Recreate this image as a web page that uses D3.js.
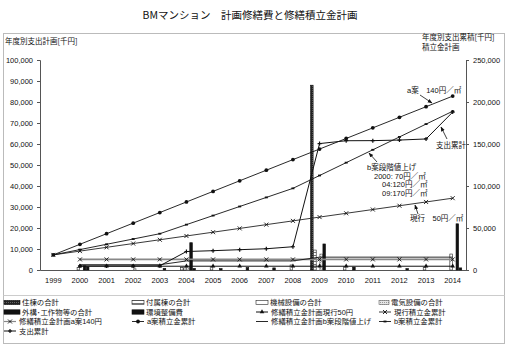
<!DOCTYPE html>
<html>
<head>
<meta charset="utf-8">
<script src="https://cdn.jsdelivr.net/npm/d3@7/dist/d3.min.js"></script>
<style>
  html, body { margin: 0; padding: 0; background: #fff; }
  svg { display: block; font-family: "Noto Sans CJK JP", "Noto Sans", sans-serif; }
  .tick text { font-family: "Liberation Sans", Arial, sans-serif; }
  .small { font-family: "Liberation Sans", "Noto Sans CJK JP", sans-serif; }
</style>
</head>
<body>
<svg id="chart" width="508" height="348"></svg>
<script>
// 年度
const years = ["1999","2000","2001","2002","2003","2004","2005","2006","2007","2008","2009","2010","2011","2012","2013","2014"];

// 年度別支出計画 [千円]（左軸・棒）
const jutou     = [0, 0, 0, 0, 0, 0, 0, 0, 0, 0, 88000, 0, 0, 0, 0, 0];
const fuzokutou = [0, 0, 0, 0, 0, 1200, 0, 0, 0, 0, 9500, 0, 0, 0, 0, 0];
const kikai     = [0, 1200, 0, 0, 0, 1000, 1500, 0, 0, 2400, 0, 1500, 0, 0, 1300, 7600];
const denki     = [0, 0, 0, 600, 0, 1500, 0, 0, 0, 0, 7600, 0, 0, 0, 0, 0];
const gaikou    = [0, 2000, 0, 0, 800, 13000, 0, 0, 0, 0, 12400, 0, 0, 0, 0, 22000];
const kankyou   = [0, 1500, 0, 0, 0, 800, 700, 1200, 1000, 0, 0, 1400, 0, 700, 0, 1000];

// 修繕積立金計画（年額）と累計 [千円]（右軸・線）
const genkouAnnual = [null, 4500, 4500, 4500, 4500, 4500, 4500, 4500, 4500, 4500, 4500, 4500, 4500, 4500, 4500, 4500];
const genkouCum    = [18000, 22500, 27000, 31500, 36000, 40500, 45000, 49500, 54000, 58500, 63000, 67500, 72000, 76500, 81000, 85500];
const aAnnual      = [null, 12600, 12600, 12600, 12600, 12600, 12600, 12600, 12600, 12600, 12600, 12600, 12600, 12600, 12600, 12600];
const aCum         = [18000, 30600, 43200, 55800, 68400, 81000, 93600, 106200, 118800, 131400, 144000, 156600, 169200, 181800, 194400, 207000];
const bAnnual      = [null, 6300, 6300, 6300, 6300, 10800, 10800, 10800, 10800, 10800, 15300, 15300, 15300, 15300, 15300, 15300];
const bCum         = [18000, 24300, 30600, 36900, 43200, 54000, 64800, 75600, 86400, 97200, 112500, 127800, 143100, 158400, 173700, 189000];
const spendCum     = [null, 4800, 4800, 4800, 5000, 22000, 23000, 24200, 25300, 27700, 150500, 153900, 154000, 154700, 156000, 188000];

// 軸目盛
const leftTicks  = [0, 10000, 20000, 30000, 40000, 50000, 60000, 70000, 80000, 90000, 100000];
const rightTicks = [0, 50000, 100000, 150000, 200000, 250000];

const svg = d3.select("#chart");
const W = 508, H = 348;
const plot = { left: 40, right: 466, top: 60, bottom: 270 };

svg.append("rect").attr("width", W).attr("height", H).attr("fill", "#fff");

// パターン（棒の塗り）
const defs = svg.append("defs");
const pJ = defs.append("pattern").attr("id", "pJutou").attr("patternUnits", "userSpaceOnUse").attr("width", 2).attr("height", 2);
pJ.append("rect").attr("width", 2).attr("height", 2).attr("fill", "#222");
pJ.append("rect").attr("width", 1).attr("height", 1).attr("fill", "#666");
const pF = defs.append("pattern").attr("id", "pFuzoku").attr("patternUnits", "userSpaceOnUse").attr("width", 3).attr("height", 3);
pF.append("rect").attr("width", 3).attr("height", 3).attr("fill", "#fff");
pF.append("rect").attr("width", 3).attr("height", 1).attr("fill", "#777");
const pD = defs.append("pattern").attr("id", "pDenki").attr("patternUnits", "userSpaceOnUse").attr("width", 2).attr("height", 2);
pD.append("rect").attr("width", 2).attr("height", 2).attr("fill", "#e6e6e6");
pD.append("rect").attr("width", 1).attr("height", 1).attr("fill", "#999");

defs.append("marker").attr("id", "arrow").attr("viewBox", "0 0 10 10").attr("refX", 9).attr("refY", 5)
  .attr("markerWidth", 6).attr("markerHeight", 6).attr("orient", "auto-start-reverse")
  .append("path").attr("d", "M0,1 L10,5 L0,9 Z").attr("fill", "#111");

// 外枠
svg.append("rect").attr("x", 3.5).attr("y", 33.5).attr("width", 501).attr("height", 310)
  .attr("fill", "none").attr("stroke", "#bbb").attr("stroke-width", 1);
svg.append("line").attr("x1", 3.5).attr("x2", 504.5).attr("y1", 295.5).attr("y2", 295.5)
  .attr("stroke", "#ccc");

// タイトル
svg.append("text").attr("x", 250).attr("y", 19).attr("text-anchor", "middle")
  .attr("font-size", 10.5).attr("fill", "#111").text("BMマンション　計画修繕費と修繕積立金計画");

svg.append("text").attr("x", 5).attr("y", 44).attr("font-size", 7.5).attr("fill", "#111").text("年度別支出計画[千円]");
svg.append("text").attr("x", 422).attr("y", 39.5).attr("font-size", 7.5).attr("fill", "#111").text("年度別支出累積[千円]");
svg.append("text").attr("x", 422).attr("y", 49.5).attr("font-size", 7.5).attr("fill", "#111").text("積立金計画");

// スケール
const x = d3.scaleBand().domain(years).range([plot.left, plot.right]).padding(0);
const yL = d3.scaleLinear().domain([0, 100000]).range([plot.bottom, plot.top]);
const yR = d3.scaleLinear().domain([0, 250000]).range([plot.bottom, plot.top]);
const cx = d => x(d) + x.bandwidth() / 2;

// 軸
const fmt = d3.format(",");
const axL = svg.append("g").attr("transform", `translate(${plot.left},0)`)
  .call(d3.axisLeft(yL).tickValues(leftTicks).tickFormat(fmt).tickSize(3).tickPadding(4));
const axR = svg.append("g").attr("transform", `translate(${plot.right},0)`)
  .call(d3.axisRight(yR).tickValues(rightTicks).tickFormat(fmt).tickSize(3).tickPadding(4));
const axX = svg.append("g").attr("transform", `translate(0,${plot.bottom})`)
  .call(d3.axisBottom(x).tickSize(0).tickPadding(8));
[axL, axR, axX].forEach(g => {
  g.selectAll("path.domain").attr("stroke", "#555");
  g.selectAll(".tick line").attr("stroke", "#555");
  g.selectAll(".tick text").attr("font-size", 7.5).attr("fill", "#111");
});

// 棒グラフ（左軸）
const barSeries = [
  { name: "住棟の合計", values: jutou, fill: "url(#pJutou)", stroke: "#111" },
  { name: "付属棟の合計", values: fuzokutou, fill: "url(#pFuzoku)", stroke: "#222" },
  { name: "機械設備の合計", values: kikai, fill: "#fff", stroke: "#222" },
  { name: "電気設備の合計", values: denki, fill: "url(#pDenki)", stroke: "#666" },
  { name: "外構･工作物等の合計", values: gaikou, fill: "#111", stroke: "#111" },
  { name: "環境整備費", values: kankyou, fill: "#111", stroke: "#111" }
];
const inner = d3.scaleBand().domain(barSeries.map(s => s.name))
  .range([0, x.bandwidth()]).paddingInner(0).paddingOuter(1.3);
const barG = svg.append("g");
barSeries.forEach(s => {
  barG.selectAll(null).data(years.map((yr, i) => ({ yr, v: s.values[i] })).filter(d => d.v > 0))
    .join("rect")
    .attr("x", d => x(d.yr) + inner(s.name) + 0.25)
    .attr("width", inner.bandwidth() - 0.5)
    .attr("y", d => yL(d.v))
    .attr("height", d => yL(0) - yL(d.v))
    .attr("fill", s.fill).attr("stroke", s.stroke).attr("stroke-width", 0.6);
});

// 線グラフ（右軸）
const sym = (type, size) => d3.symbol().type(type).size(size);
const lineSeries = [
  { name: "修繕積立金計画現行50円", values: genkouAnnual, stroke: "#111", width: 1, marker: "tri" },
  { name: "現行積立金累計", values: genkouCum, stroke: "#222", width: 0.9, marker: "x" },
  { name: "修繕積立金計画a案140円", values: aAnnual, stroke: "#888", width: 1.6, marker: "x" },
  { name: "a案積立金累計", values: aCum, stroke: "#111", width: 0.9, marker: "dot" },
  { name: "修繕積立金計画b案段階値上げ", values: bAnnual, stroke: "#111", width: 0.9, marker: null },
  { name: "b案積立金累計", values: bCum, stroke: "#111", width: 0.9, marker: "dash" },
  { name: "支出累計", values: spendCum, stroke: "#111", width: 1, marker: "plus" }
];

function drawMarker(g, kind, px, py, stroke) {
  if (kind === "tri") {
    g.append("path").attr("transform", `translate(${px},${py})`).attr("d", sym(d3.symbolTriangle, 9)()).attr("fill", "#111");
  } else if (kind === "x") {
    g.append("path").attr("d", `M${px-2},${py-2}L${px+2},${py+2}M${px-2},${py+2}L${px+2},${py-2}`)
      .attr("stroke", "#111").attr("stroke-width", 0.9);
  } else if (kind === "dot") {
    g.append("circle").attr("cx", px).attr("cy", py).attr("r", 1.9).attr("fill", "#111");
  } else if (kind === "dash") {
    g.append("path").attr("d", `M${px-1.5},${py}L${px+1.5},${py}`).attr("stroke", "#111").attr("stroke-width", 1.8);
  } else if (kind === "plus") {
    g.append("path").attr("d", `M${px-2},${py}L${px+2},${py}M${px},${py-2}L${px},${py+2}`)
      .attr("stroke", "#111").attr("stroke-width", 1.2);
  }
}

const lineG = svg.append("g");
lineSeries.forEach(s => {
  const pts = years.map((yr, i) => ({ yr, v: s.values[i] })).filter(d => d.v !== null);
  const line = d3.line().x(d => cx(d.yr)).y(d => yR(d.v));
  lineG.append("path").datum(pts).attr("d", line).attr("fill", "none")
    .attr("stroke", s.stroke).attr("stroke-width", s.width);
  if (s.marker) pts.forEach(d => drawMarker(lineG, s.marker, cx(d.yr), yR(d.v), s.stroke));
});

// 注記
const note = svg.append("g").attr("class", "small").attr("font-size", 7.5).attr("fill", "#111");
function arrow(x1, y1, x2, y2) {
  note.append("line").attr("x1", x1).attr("y1", y1).attr("x2", x2).attr("y2", y2)
    .attr("stroke", "#111").attr("stroke-width", 0.8).attr("marker-end", "url(#arrow)");
}
note.append("text").attr("x", 407).attr("y", 93).text("a案　140円／㎡");
arrow(420, 95, 432, 103);
note.append("text").attr("x", 436).attr("y", 148).text("支出累計");
arrow(447, 139, 441, 127);
const bNote = note.append("text").attr("x", 367).attr("y", 170);
[
  { dx: 0, t: "b案段階値上げ" },
  { dx: 7, t: "2000:  70円／㎡" },
  { dx: 15, t: "04:120円／㎡" },
  { dx: 15, t: "09:170円／㎡" }
].forEach((ln, i) => {
  bNote.append("tspan").attr("x", 367 + ln.dx).attr("dy", i === 0 ? 0 : 8.6).text(ln.t);
});
arrow(377, 162, 369, 153);
note.append("text").attr("x", 410).attr("y", 221).text("現行　50円／㎡");
arrow(418, 214, 415, 205);

// 凡例
const legend = svg.append("g").attr("class", "small").attr("font-size", 7.4).attr("fill", "#111");
const cols = [4, 132, 256, 379];
const rows = [302.5, 312, 321.5, 331];
const legendItems = [
  { t: "bar", s: barSeries[0], c: 0, r: 0 },
  { t: "bar", s: barSeries[1], c: 1, r: 0 },
  { t: "bar", s: barSeries[2], c: 2, r: 0 },
  { t: "bar", s: barSeries[3], c: 3, r: 0 },
  { t: "bar", s: barSeries[4], c: 0, r: 1 },
  { t: "bar", s: barSeries[5], c: 1, r: 1 },
  { t: "line", s: lineSeries[0], c: 2, r: 1 },
  { t: "line", s: lineSeries[1], c: 3, r: 1 },
  { t: "line", s: lineSeries[2], c: 0, r: 2 },
  { t: "line", s: lineSeries[3], c: 1, r: 2 },
  { t: "line", s: lineSeries[4], c: 2, r: 2 },
  { t: "line", s: lineSeries[5], c: 3, r: 2 },
  { t: "line", s: lineSeries[6], c: 0, r: 3 }
];
legendItems.forEach(it => {
  const lx = cols[it.c], ly = rows[it.r];
  if (it.t === "bar") {
    const w = it.c === 0 ? 16 : (it.c === 3 ? 10 : 12);
    legend.append("rect").attr("x", lx).attr("y", ly - 2.2).attr("width", w).attr("height", 4.4)
      .attr("fill", it.s.fill).attr("stroke", it.s.stroke).attr("stroke-width", 0.6);
    legend.append("text").attr("x", lx + w + 2).attr("y", ly + 2.7).text(it.s.name);
  } else {
    legend.append("line").attr("x1", lx).attr("x2", lx + 12).attr("y1", ly).attr("y2", ly)
      .attr("stroke", it.s.stroke).attr("stroke-width", Math.min(it.s.width, 1.2));
    if (it.s.marker) drawMarker(legend, it.s.marker, lx + 6, ly, it.s.stroke);
    legend.append("text").attr("x", lx + 15).attr("y", ly + 2.7).text(it.s.name);
  }
});
</script>
</body>
</html>
